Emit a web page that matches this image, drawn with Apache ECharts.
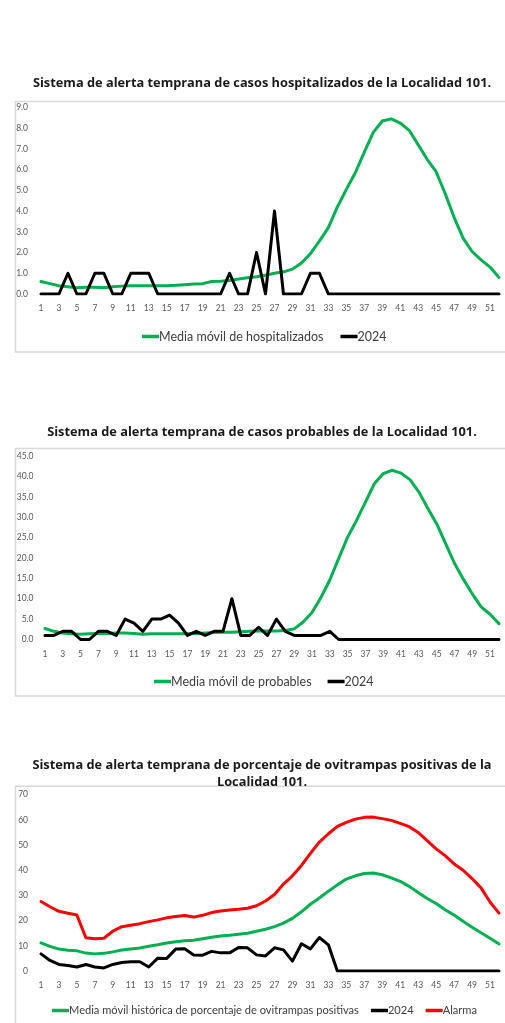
<!DOCTYPE html>
<html>
<head>
<meta charset="utf-8">
<script src="https://cdn.jsdelivr.net/npm/echarts@6/dist/echarts.min.js"></script>
<style>
  html, body { margin: 0; padding: 0; background: #ffffff; }
  #chart { width: 505px; height: 1023px; }
</style>
</head>
<body>
<div id="chart"></div>
<script>
// Epidemiological weeks
const weeks = [1, 2, 3, 4, 5, 6, 7, 8, 9, 10, 11, 12, 13, 14, 15, 16, 17, 18, 19, 20,
  21, 22, 23, 24, 25, 26, 27, 28, 29, 30, 31, 32, 33, 34, 35, 36, 37, 38, 39, 40,
  41, 42, 43, 44, 45, 46, 47, 48, 49, 50, 51, 52];

// Hospitalised cases
const hospMediaMovil = [0.6, 0.5, 0.4, 0.35, 0.3, 0.33, 0.32, 0.3, 0.35, 0.38, 0.4, 0.4, 0.4, 0.4, 0.4, 0.42, 0.45, 0.48, 0.5, 0.6,
  0.62, 0.65, 0.72, 0.78, 0.83, 0.9, 1.0, 1.07, 1.2, 1.5, 1.95, 2.55, 3.2, 4.2, 5.05, 5.85, 6.85, 7.8, 8.35, 8.45,
  8.25, 7.9, 7.2, 6.5, 5.9, 4.85, 3.7, 2.7, 2.05, 1.65, 1.3, 0.8];
const hosp2024 = [0, 0, 0, 1, 0, 0, 1, 1, 0, 0, 1, 1, 1, 0, 0, 0, 0, 0, 0, 0,
  0, 1, 0, 0, 2, 0, 4, 0, 0, 0, 1, 1, 0, 0, 0, 0, 0, 0, 0, 0,
  0, 0, 0, 0, 0, 0, 0, 0, 0, 0, 0, 0];

// Probable cases
const probMediaMovil = [2.7, 2.0, 1.6, 1.4, 1.3, 1.4, 1.5, 1.5, 1.6, 1.6, 1.5, 1.3, 1.4, 1.4, 1.4, 1.4, 1.4, 1.5, 1.6, 1.7,
  1.8, 1.8, 1.9, 2.0, 2.1, 2.1, 2.1, 2.2, 2.6, 4.3, 6.6, 10.3, 14.6, 19.9, 25.1, 29.2, 33.7, 38.2, 40.7, 41.5,
  40.8, 39.2, 36.2, 32.2, 28.4, 23.6, 18.7, 14.8, 11.2, 8.0, 6.2, 3.9];
const prob2024 = [1, 1, 2, 2, 0, 0, 2, 2, 1, 5, 4, 2, 5, 5, 6, 4, 1, 2, 1, 2,
  2, 10, 1, 1, 3, 1, 5, 2, 1, 1, 1, 1, 2, 0, 0, 0, 0, 0, 0, 0,
  0, 0, 0, 0, 0, 0, 0, 0, 0, 0, 0, 0];

// Positive ovitraps (%)
const oviMediaMovil = [11.2, 9.8, 8.7, 8.2, 8.0, 7.1, 6.8, 7.0, 7.6, 8.3, 8.7, 9.1, 9.8, 10.4, 11.1, 11.6, 12.0, 12.2, 12.8, 13.4,
  13.9, 14.2, 14.6, 15.0, 15.8, 16.6, 17.6, 19.0, 20.9, 23.5, 26.5, 29.0, 31.7, 34.2, 36.5, 37.8, 38.7, 38.9, 38.2, 37.0,
  35.6, 33.6, 31.2, 28.8, 26.8, 24.3, 22.2, 19.8, 17.4, 15.2, 13.0, 10.7];
const ovi2024 = [6.8, 4.2, 2.6, 2.2, 1.6, 2.6, 1.6, 1.2, 2.6, 3.4, 3.7, 3.7, 1.6, 5.1, 5.0, 8.7, 8.8, 6.4, 6.3, 7.8,
  7.2, 7.2, 9.3, 9.2, 6.4, 6.0, 9.2, 8.4, 3.9, 10.8, 8.8, 13.3, 10.4, 0, 0, 0, 0, 0, 0, 0,
  0, 0, 0, 0, 0, 0, 0, 0, 0, 0, 0, 0];
const oviAlarma = [27.6, 25.5, 23.7, 22.9, 22.2, 13.2, 12.8, 13.0, 15.8, 17.6, 18.2, 18.8, 19.6, 20.3, 21.1, 21.6, 22.0, 21.4, 22.1, 23.2,
  23.8, 24.2, 24.5, 24.9, 25.9, 27.8, 30.4, 34.5, 37.8, 41.9, 46.7, 51.2, 54.5, 57.4, 59.0, 60.3, 61.0, 61.1, 60.5, 59.8,
  58.6, 57.3, 55.0, 51.8, 48.5, 45.8, 42.5, 40.0, 36.7, 33.0, 27.4, 23.0];

// Titles and legend names
const titles = [
  'Sistema de alerta temprana de casos hospitalizados de la Localidad 101.',
  'Sistema de alerta temprana de casos probables de la Localidad 101.',
  'Sistema de alerta temprana de porcentaje de ovitrampas positivas de la\nLocalidad 101.'
];
const names = {
  hosp: 'Media móvil de hospitalizados',
  prob: 'Media móvil de probables',
  ovi: 'Media móvil histórica de porcentaje de ovitrampas positivas',
  year: '2024',
  alarm: 'Alarma'
};

const GREEN = '#00B050', BLACK = '#000000', RED = '#FF0000';
const AXIS_TEXT = { fontFamily: 'Lato', fontSize: 8.5, color: '#595959' };
const TITLE_TEXT = { fontFamily: 'Open Sans', fontWeight: 'bold', fontSize: 12.8, color: '#1a1a1a' };

function frame(y, h) {
  return {
    type: 'rect', silent: true, z: -1,
    shape: { x: 15.5, y: y, width: 520, height: h },
    style: { fill: 'none', stroke: '#d9d9d9', lineWidth: 1.5 }
  };
}

function xAxisFor(i) {
  return {
    type: 'category', gridIndex: i, data: weeks, boundaryGap: true,
    axisLine: { show: false }, axisTick: { show: false },
    axisLabel: Object.assign({ interval: 1, margin: 10 }, AXIS_TEXT)
  };
}

function yAxisFor(i, max, step, digits, margin) {
  return {
    type: 'value', gridIndex: i, min: 0, max: max, interval: step,
    splitLine: { show: false }, axisLine: { show: false }, axisTick: { show: false },
    axisLabel: Object.assign({ margin: margin, formatter: v => v.toFixed(digits) }, AXIS_TEXT)
  };
}

function line(name, data, color, i) {
  return {
    type: 'line', name: name, data: data, xAxisIndex: i, yAxisIndex: i,
    symbol: 'none', showSymbol: false,
    lineStyle: { color: color, width: 3, join: 'round', cap: 'round' },
    itemStyle: { color: color }
  };
}

function legendFor(items, left, top, gap, fontSize) {
  return {
    data: items, left: left, top: top, padding: 0, itemGap: gap,
    icon: 'rect', itemWidth: 17, itemHeight: 3.5,
    textStyle: { fontFamily: 'Lato', fontSize: fontSize, color: '#404040', padding: [0, 0, 0, -5] }
  };
}

function titleFor(text, top, extra) {
  return {
    text: text, left: 262, top: top, padding: 0, textAlign: 'center',
    textStyle: Object.assign({}, TITLE_TEXT, extra || {})
  };
}

const chart = echarts.init(document.getElementById('chart'), null, { renderer: 'canvas' });

chart.setOption({
  animation: false,
  backgroundColor: '#ffffff',
  graphic: [frame(101.5, 250.5), frame(448.5, 247.5), frame(786.3, 260)],
  title: [
    titleFor(titles[0], 77),
    titleFor(titles[1], 426),
    titleFor(titles[2], 756.5, { lineHeight: 17, align: 'center' })
  ],
  legend: [
    legendFor([names.hosp, names.year], 142, 330, 17, 12.5),
    legendFor([names.prob, names.year], 154, 675, 16, 12.5),
    legendFor([names.ovi, names.year, names.alarm], 52, 1005, 12, 11.1)
  ],
  grid: [
    { left: 36.5, right: 1.5, top: 107.5, height: 186.5, containLabel: false, outerBoundsMode: 'none' },
    { left: 40.5, right: 1.6, top: 456, height: 183.5, containLabel: false, outerBoundsMode: 'none' },
    { left: 36.5, right: 1.5, top: 794.7, height: 176.3, containLabel: false, outerBoundsMode: 'none' }
  ],
  xAxis: [xAxisFor(0), xAxisFor(1), xAxisFor(2)],
  yAxis: [
    yAxisFor(0, 9, 1, 1, 8.5),
    yAxisFor(1, 45, 5, 1, 7),
    yAxisFor(2, 70, 10, 0, 8.5)
  ],
  series: [
    line(names.hosp, hospMediaMovil, GREEN, 0),
    line(names.year, hosp2024, BLACK, 0),
    line(names.prob, probMediaMovil, GREEN, 1),
    line(names.year, prob2024, BLACK, 1),
    line(names.ovi, oviMediaMovil, GREEN, 2),
    line(names.year, ovi2024, BLACK, 2),
    line(names.alarm, oviAlarma, RED, 2)
  ]
});
</script>
</body>
</html>
